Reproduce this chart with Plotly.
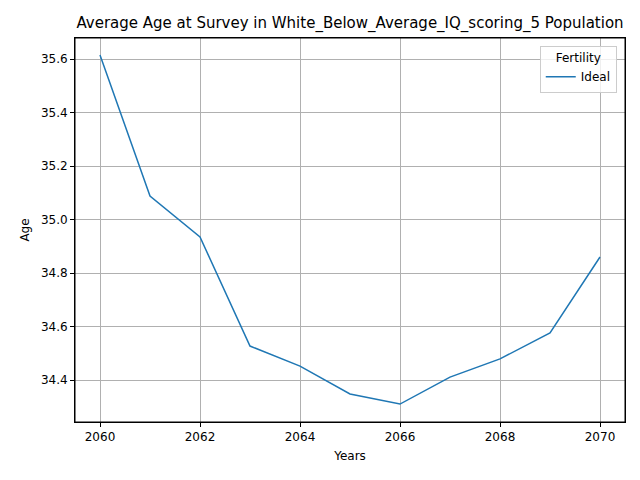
import plotly.graph_objects as go

years = [2060, 2061, 2062, 2063, 2064, 2065, 2066, 2067, 2068, 2069, 2070]
ideal_age = [35.615, 35.088, 34.935, 34.527, 34.452, 34.348, 34.310, 34.411, 34.479, 34.576, 34.860]
y_ticks = [34.4, 34.6, 34.8, 35.0, 35.2, 35.4, 35.6]
y_labels = ["34.4", "34.6", "34.8", "35.0", "35.2", "35.4", "35.6"]

fig = go.Figure()
fig.add_trace(go.Scatter(x=years, y=ideal_age, mode="lines", name="Ideal",
                         line=dict(color="#1f77b4", width=1.5)))

axis = dict(showline=True, mirror=True, linecolor="black", linewidth=1,
            showgrid=True, gridcolor="#b0b0b0", gridwidth=1,
            ticks="outside", ticklen=4, tickcolor="black", zeroline=False,
            tickfont=dict(size=12, color="black"), automargin=False)

fig.update_layout(
    width=640, height=480,
    paper_bgcolor="white", plot_bgcolor="white",
    font=dict(family="DejaVu Sans", color="black"),
    margin=dict(l=67, r=23, t=30, b=66),
    title=dict(text="Average Age at Survey in White_Below_Average_IQ_scoring_5 Population",
               x=342 / 640, xanchor="center", y=1 - 15 / 480, yanchor="middle",
               font=dict(size=15)),
    xaxis=dict(axis, title=dict(text="Years", font=dict(size=12), standoff=8), range=[2059.5, 2070.5],
               tickvals=[2060, 2062, 2064, 2066, 2068, 2070]),
    yaxis=dict(axis, title=dict(text="Age", font=dict(size=12), standoff=8), range=[34.243, 35.679],
               tickvals=y_ticks, ticktext=y_labels),
    legend=dict(title=dict(text="Fertility", side="top center", font=dict(size=12)),
                x=0.985, y=0.98, xanchor="right", yanchor="top",
                bordercolor="#cccccc", borderwidth=1,
                bgcolor="rgba(255,255,255,0.8)", font=dict(size=12)),
    showlegend=True,
    shapes=[dict(type="rect", xref="paper", yref="paper", x0=0, y0=0, x1=1, y1=1,
                 line=dict(color="black", width=1))],
)

fig.write_html("out.html")
